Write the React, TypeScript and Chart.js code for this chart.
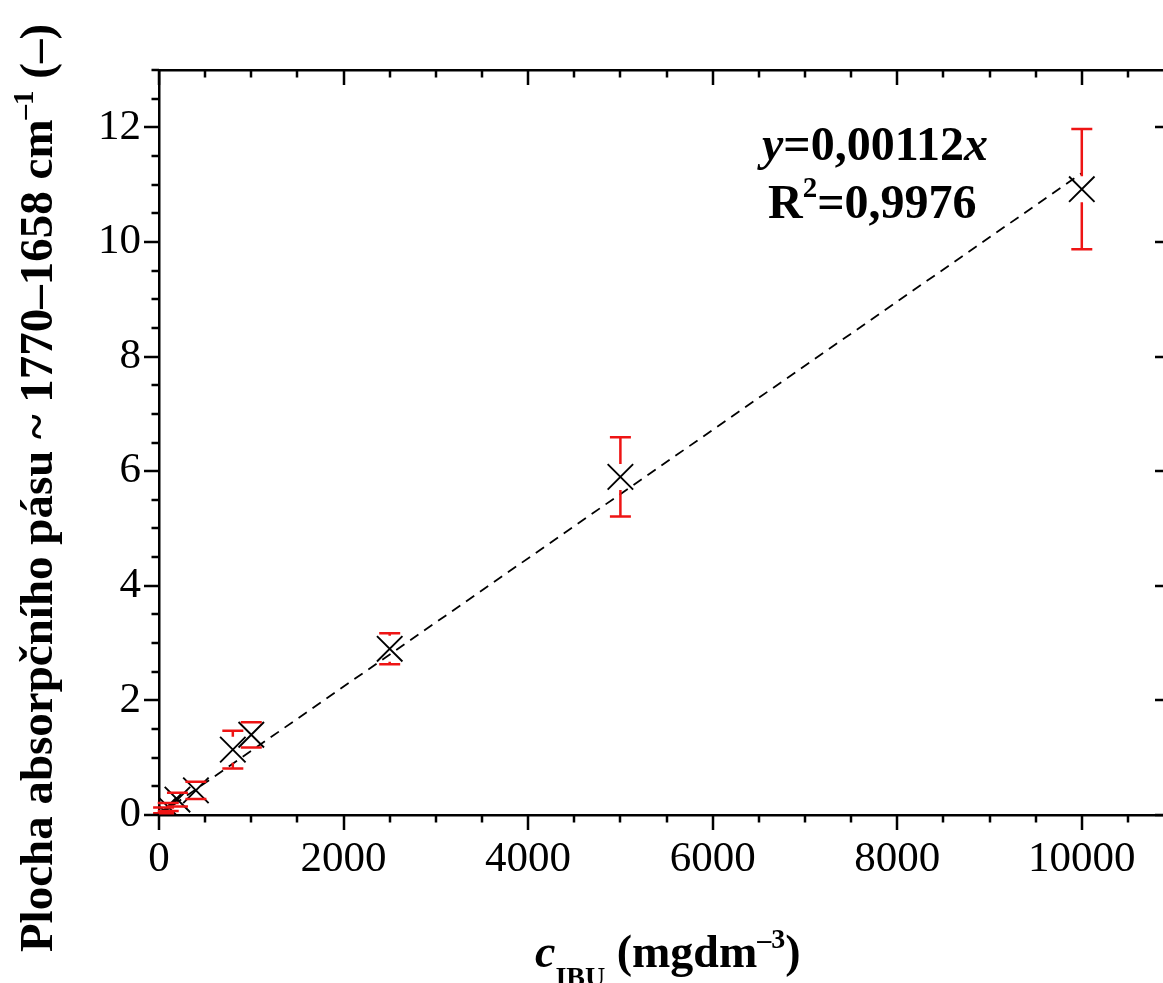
import React, { useEffect, useRef } from "react";
import { Chart, registerables } from "chart.js";

Chart.register(...registerables);

// ---- data ----
const concentrations = [50, 100, 200, 400, 800, 1000, 2500, 5000, 10000];
const areas = [0.08, 0.14, 0.27, 0.43, 1.14, 1.4, 2.9, 5.9, 10.92];
const areaErrors = [0.05, 0.07, 0.12, 0.15, 0.33, 0.22, 0.27, 0.69, 1.05];
const fitSlope = 0.00112;
const fitRangeX = [0, 10000];
const xTickValues = [0, 2000, 4000, 6000, 8000, 10000];
const yTickValues = [0, 2, 4, 6, 8, 10, 12];
const xMinorStep = 500;
const yMinorStep = 0.5;
const xLimits = [0, 10880];
const yLimits = [0, 13];
const equationText = ["y", "=0,00112", "x"];
const r2Text = ["R", "2", "=0,9976"];
const yTitleMain = "Plocha absorpčního pásu ~ 1770–1658 cm";
const yTitleSup = "–1";
const yTitleEnd = " (–)";
const xTitleVar = "c";
const xTitleSub = "IBU";
const xTitleUnit = " (mgdm";
const xTitleSup = "–3";
const xTitleEnd = ")";

const SERIF = "'Liberation Serif', 'Times New Roman', serif";
const RED = "#ee1414";

const errorBarPlugin = {
  id: "errorBars",
  afterDatasetsDraw(chart: any) {
    const { ctx, scales } = chart;
    const x = scales.x;
    const y = scales.y;
    ctx.save();
    ctx.strokeStyle = RED;
    ctx.lineWidth = 2.5;
    const cap = 10.5;
    const gap = 13;
    concentrations.forEach((c, i) => {
      const px = x.getPixelForValue(c);
      const pc = y.getPixelForValue(areas[i]);
      const pt = y.getPixelForValue(areas[i] + areaErrors[i]);
      const pb = y.getPixelForValue(areas[i] - areaErrors[i]);
      ctx.beginPath();
      ctx.moveTo(px - cap, pt);
      ctx.lineTo(px + cap, pt);
      ctx.moveTo(px - cap, pb);
      ctx.lineTo(px + cap, pb);
      if (pc - gap > pt) {
        ctx.moveTo(px, pt);
        ctx.lineTo(px, pc - gap);
      }
      if (pc + gap < pb) {
        ctx.moveTo(px, pb);
        ctx.lineTo(px, pc + gap);
      }
      ctx.stroke();
    });
    ctx.restore();
  },
};

const tickMarksPlugin = {
  id: "tickMarks",
  afterDraw(chart: any) {
    const { ctx, chartArea, scales } = chart;
    const x = scales.x;
    const y = scales.y;
    const major = 15;
    const minor = 7.5;
    ctx.save();
    ctx.strokeStyle = "#000";
    ctx.lineWidth = 2.5;
    ctx.beginPath();
    for (let v = xLimits[0]; v <= xLimits[1] + 1e-6; v += xMinorStep) {
      const px = Math.round(x.getPixelForValue(v));
      const isMajor = xTickValues.includes(v);
      const len = isMajor ? major : minor;
      ctx.moveTo(px, chartArea.bottom);
      ctx.lineTo(px, chartArea.bottom + len);
      ctx.moveTo(px, chartArea.top);
      ctx.lineTo(px, chartArea.top + len);
    }
    for (let i = 0; i * yMinorStep <= yLimits[1] + 1e-6; i++) {
      const v = i * yMinorStep;
      const py = Math.round(y.getPixelForValue(v));
      const isMajor = yTickValues.includes(v);
      const len = isMajor ? major : minor;
      ctx.moveTo(chartArea.left, py);
      ctx.lineTo(chartArea.left - len, py);
      if (isMajor) {
        ctx.moveTo(chartArea.right, py);
        ctx.lineTo(chartArea.right - 8, py);
      }
    }
    ctx.stroke();
    ctx.restore();
  },
};

function drawRuns(ctx: any, runs: { t: string; font: string; dy: number }[], x: number, y: number) {
  let cx = x;
  for (const r of runs) {
    ctx.font = r.font;
    ctx.fillText(r.t, cx, y + r.dy);
    cx += ctx.measureText(r.t).width;
  }
  return cx - x;
}

function runsWidth(ctx: any, runs: { t: string; font: string; dy: number }[]) {
  let w = 0;
  for (const r of runs) {
    ctx.font = r.font;
    w += ctx.measureText(r.t).width;
  }
  return w;
}

const textPlugin = {
  id: "texts",
  afterDraw(chart: any) {
    const { ctx } = chart;
    ctx.save();
    ctx.fillStyle = "#000";
    ctx.textBaseline = "alphabetic";
    ctx.textAlign = "left";
    const big = `bold 46px ${SERIF}`;
    const bigIt = `italic bold 46px ${SERIF}`;
    const small = `bold 28px ${SERIF}`;
    const ann = `bold 48px ${SERIF}`;
    const annIt = `italic bold 48px ${SERIF}`;
    const annSmall = `bold 29px ${SERIF}`;

    // equation annotation
    drawRuns(
      ctx,
      [
        { t: equationText[0], font: annIt, dy: 0 },
        { t: equationText[1], font: ann, dy: 0 },
        { t: equationText[2], font: annIt, dy: 0 },
      ],
      762,
      160
    );
    drawRuns(
      ctx,
      [
        { t: r2Text[0], font: ann, dy: 0 },
        { t: r2Text[1], font: annSmall, dy: -21 },
        { t: r2Text[2], font: ann, dy: 0 },
      ],
      768,
      218
    );

    // x axis title
    drawRuns(
      ctx,
      [
        { t: xTitleVar, font: bigIt, dy: 0 },
        { t: xTitleSub, font: small, dy: 19 },
        { t: xTitleUnit, font: big, dy: 0 },
        { t: xTitleSup, font: small, dy: -19 },
        { t: xTitleEnd, font: big, dy: 0 },
      ],
      535,
      967
    );

    // y axis title (rotated)
    const yBig = `bold 47px ${SERIF}`;
    const ySmall = `bold 29px ${SERIF}`;
    const yRuns = [
      { t: yTitleMain, font: yBig, dy: 0 },
      { t: yTitleSup, font: ySmall, dy: -19 },
      { t: yTitleEnd, font: yBig, dy: 0 },
    ];
    const w = runsWidth(ctx, yRuns);
    ctx.translate(52, 488);
    ctx.rotate(-Math.PI / 2);
    drawRuns(ctx, yRuns, -w / 2, 0);
    ctx.restore();
  },
};

export default function App() {
  const ref = useRef<HTMLCanvasElement | null>(null);

  useEffect(() => {
    const canvas = ref.current;
    if (!canvas) return;
    const points = concentrations.map((c, i) => ({ x: c, y: areas[i] }));
    const fitPoints = fitRangeX.map((v) => ({ x: v, y: fitSlope * v }));
    const tickFont = { family: SERIF, size: 43 };
    const border = { display: true, color: "#000", width: 2.5 };
    const chart = new Chart(canvas, {
      type: "scatter",
      data: {
        datasets: [
          {
            type: "line",
            data: fitPoints,
            borderColor: "#000",
            borderWidth: 1.8,
            borderDash: [10, 7],
            pointRadius: 0,
            fill: false,
            order: 2,
          } as any,
          {
            type: "scatter",
            data: points,
            pointStyle: "crossRot",
            pointRadius: 18,
            pointHoverRadius: 18,
            borderColor: "#000",
            backgroundColor: "rgba(0,0,0,0)",
            pointBorderWidth: 1.9,
            order: 1,
          } as any,
        ],
      },
      options: {
        responsive: false,
        animation: false,
        devicePixelRatio: 1,
        layout: { padding: 0, autoPadding: false },
        plugins: { legend: { display: false }, tooltip: { enabled: false } },
        scales: {
          x: {
            type: "linear",
            position: "bottom",
            min: xLimits[0],
            max: xLimits[1],
            afterBuildTicks: (s: any) => {
              s.ticks = xTickValues.map((v) => ({ value: v }));
            },
            afterFit: (s: any) => {
              s.height = 168;
            },
            grid: { display: false, drawTicks: false },
            border,
            ticks: {
              font: tickFont,
              color: "#000",
              padding: 19,
              maxRotation: 0,
              autoSkip: false,
              callback: (v: any) => String(v),
            },
          },
          x2: {
            type: "linear",
            position: "top",
            min: xLimits[0],
            max: xLimits[1],
            afterFit: (s: any) => {
              s.height = 70;
            },
            grid: { display: false, drawTicks: false },
            border,
            ticks: { display: false },
          },
          y: {
            type: "linear",
            position: "left",
            min: yLimits[0],
            max: yLimits[1],
            afterBuildTicks: (s: any) => {
              s.ticks = yTickValues.map((v) => ({ value: v }));
            },
            afterFit: (s: any) => {
              s.width = 159;
            },
            grid: { display: false, drawTicks: false },
            border,
            ticks: {
              font: tickFont,
              color: "#000",
              padding: 18,
              autoSkip: false,
              callback: (v: any) => String(v),
            },
          },
          y2: {
            type: "linear",
            position: "right",
            min: yLimits[0],
            max: yLimits[1],
            afterFit: (s: any) => {
              s.width = 0;
            },
            grid: { display: false, drawTicks: false },
            border: { display: false },
            ticks: { display: false },
          },
        },
      } as any,
      plugins: [errorBarPlugin, tickMarksPlugin, textPlugin],
    });
    return () => chart.destroy();
  }, []);

  return (
    <div style={{ position: "absolute", left: 0, top: 0, width: 1163, height: 983, background: "#fff" }}>
      <canvas ref={ref} width={1163} height={983} style={{ display: "block" }} />
    </div>
  );
}
